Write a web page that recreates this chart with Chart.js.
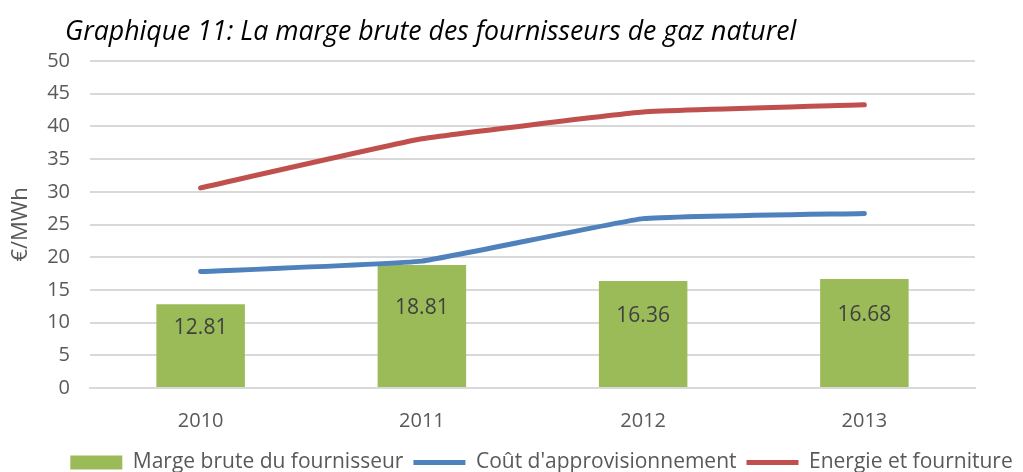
<!DOCTYPE html>
<html>
<head>
<meta charset="utf-8">
<script src="https://cdn.jsdelivr.net/npm/chart.js@4"></script>
<style>
  html, body { margin: 0; padding: 0; background: #fff; }
  #wrap { position: relative; width: 1023px; height: 472px; }
  #title {
    position: absolute; left: 65px; top: 11px;
    font: italic 26.7px "Open Sans", sans-serif; color: #000; white-space: nowrap;
  }
  canvas { position: absolute; left: 0; top: 0; }
</style>
</head>
<body>
<div id="wrap">
  <canvas id="chart" width="1023" height="472"></canvas>
  <div id="title">Graphique 11: La marge brute des fournisseurs de gaz naturel</div>
</div>
<script>
const years = ['2010', '2011', '2012', '2013'];
const margeBrute = [12.81, 18.81, 16.36, 16.68];
const coutAppro = [17.8, 19.4, 25.9, 26.7];
const energieFourniture = [30.6, 38.1, 42.2, 43.3];

const grey = '#595959';
const font = '"Open Sans", sans-serif';

const barLabels = {
    id: 'barLabels',
    afterDatasetsDraw(chart) {
        const ctx = chart.ctx;
        const meta = chart.getDatasetMeta(0);
        ctx.save();
        ctx.font = '21px ' + font;
        ctx.fillStyle = '#404040';
        ctx.textAlign = 'center';
        ctx.textBaseline = 'middle';
        meta.data.forEach((bar, i) => {
            const mid = (bar.y + bar.base) / 2 - 18;
            ctx.fillText(margeBrute[i].toFixed(2), bar.x, mid);
        });
        ctx.restore();
    }
};

// the legend sits a little right of centre in the original
const legendShift = {
    id: 'legendShift',
    afterLayout(chart) {
        chart.legend.left += 50;
        chart.legend.right += 50;
    }
};

new Chart(document.getElementById('chart'), {
    type: 'bar',
    data: {
        labels: years,
        datasets: [
            {
                label: 'Marge brute du fournisseur',
                data: margeBrute,
                backgroundColor: '#9BBB59',
                barPercentage: 0.4,
                categoryPercentage: 1,
                pointStyle: 'rect',
                order: 3
            },
            {
                type: 'line',
                label: "Coût d'approvisionnement",
                data: coutAppro,
                borderColor: '#4F81BD',
                backgroundColor: '#4F81BD',
                borderWidth: 5,
                pointRadius: 0,
                pointStyle: 'line',
                tension: 0.1,
                borderCapStyle: 'round',
                order: 2
            },
            {
                type: 'line',
                label: 'Energie et fourniture',
                data: energieFourniture,
                borderColor: '#C0504D',
                backgroundColor: '#C0504D',
                borderWidth: 5,
                pointRadius: 0,
                pointStyle: 'line',
                tension: 0.1,
                borderCapStyle: 'round',
                order: 1
            }
        ]
    },
    options: {
        responsive: false,
        animation: false,
        layout: { padding: { top: 61, right: 48, left: 8, bottom: -11 } },
        plugins: {
            legend: {
                position: 'bottom',
                labels: {
                    usePointStyle: true,
                    pointStyleWidth: 52,
                    boxHeight: 14,
                    color: grey,
                    padding: 10,
                    font: { family: font, size: 21 },
                    sort: (a, b) => a.datasetIndex - b.datasetIndex
                }
            },
            tooltip: { enabled: false }
        },
        scales: {
            x: {
                grid: { display: false },
                border: { color: '#D9D9D9', width: 2 },
                ticks: { color: grey, padding: 13, font: { family: font, size: 20 } },
                afterFit(scale) { scale.height = 54; }
            },
            y: {
                min: 0,
                max: 50,
                ticks: { stepSize: 5, color: grey, padding: 20, font: { family: font, size: 20 } },
                grid: { color: '#D9D9D9', lineWidth: 2, drawTicks: false },
                border: { display: false },
                title: {
                    display: true,
                    text: '€/MWh',
                    color: grey,
                    padding: 0,
                    font: { family: font, size: 22 }
                },
                afterFit(scale) { scale.width = 82; }
            }
        }
    },
    plugins: [barLabels, legendShift]
});
</script>
</body>
</html>
